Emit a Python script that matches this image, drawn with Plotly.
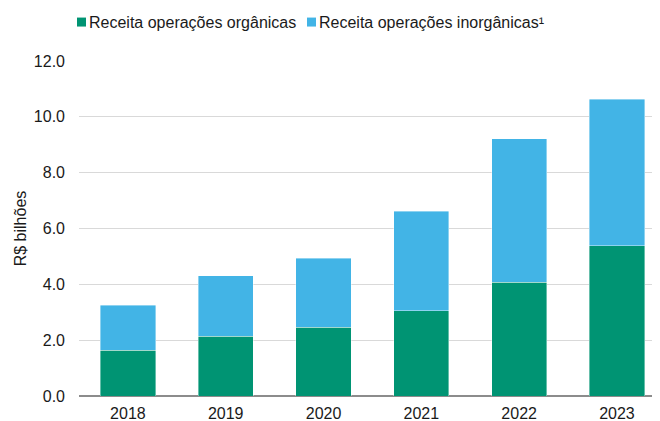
import plotly.graph_objects as go

years = ["2018", "2019", "2020", "2021", "2022", "2023"]
organicas = [1.64, 2.14, 2.47, 3.05, 4.08, 5.38]
inorganicas_total = [3.25, 4.30, 4.93, 6.61, 9.22, 10.63]
inorganicas = [round(t - o, 2) for t, o in zip(inorganicas_total, organicas)]
series_names = ["Receita operações orgânicas", "Receita operações inorgânicas¹"]
series_colors = ["#009473", "#42B4E6"]
y_ticks = [0, 2, 4, 6, 8, 10, 12]
y_tick_labels = ["0.0", "2.0", "4.0", "6.0", "8.0", "10.0", "12.0"]

FONT = "Liberation Sans, Arial, sans-serif"
# page body has an 8px margin: offset the figure so the plot lands where the reference has it
OFF = 8
PL, PT, PB = 79, 60.5, 396          # plot left / top / bottom in window pixels
PW, PH = 581, PB - PT

fig = go.Figure()
for name, vals, col in zip(series_names, [organicas, inorganicas], series_colors):
    fig.add_trace(go.Bar(
        x=years, y=vals, name=name,
        marker=dict(color=col, line=dict(color="rgba(255,255,255,0.5)", width=0.8)),
        width=0.565, showlegend=False,
    ))

# custom legend (small squares close to the text)
leg_x = [77, 307]
for name, col, lx in zip(series_names, series_colors, leg_x):
    fig.add_shape(type="rect", xref="paper", yref="paper",
                  x0=(lx - PL) / PW, x1=(lx + 9 - PL) / PW,
                  y0=(PB - 26) / PH, y1=(PB - 17) / PH,
                  fillcolor=col, line=dict(width=0))
    fig.add_annotation(text=name, xref="paper", yref="paper",
                       x=(lx + 10 - PL) / PW, y=(PB - 21.5) / PH,
                       xanchor="left", yanchor="middle", showarrow=False,
                       font=dict(family=FONT, size=16, color="#1a1a1a"))

fig.update_layout(
    width=660, height=421,
    margin=dict(l=PL - OFF, r=660 - (PL + PW) + OFF, t=PT - OFF, b=421 - PB + OFF),
    barmode="stack",
    plot_bgcolor="white", paper_bgcolor="white",
    font=dict(family=FONT, size=16, color="#1a1a1a"),
)
fig.update_xaxes(range=[-0.5, 5.44], showgrid=False, ticks="", showline=False,
                 tickfont=dict(size=16), ticklabelstandoff=6)
fig.update_yaxes(range=[0, 12], tickvals=y_ticks, ticktext=y_tick_labels,
                 showgrid=True, gridcolor="#d9d9d9", gridwidth=1,
                 zeroline=True, zerolinecolor="#8c8c8c", zerolinewidth=1.5,
                 title=dict(text="R$ bilhões", font=dict(size=16), standoff=3),
                 ticklabelstandoff=13, tickfont=dict(size=16))

fig.write_html("out.html")
